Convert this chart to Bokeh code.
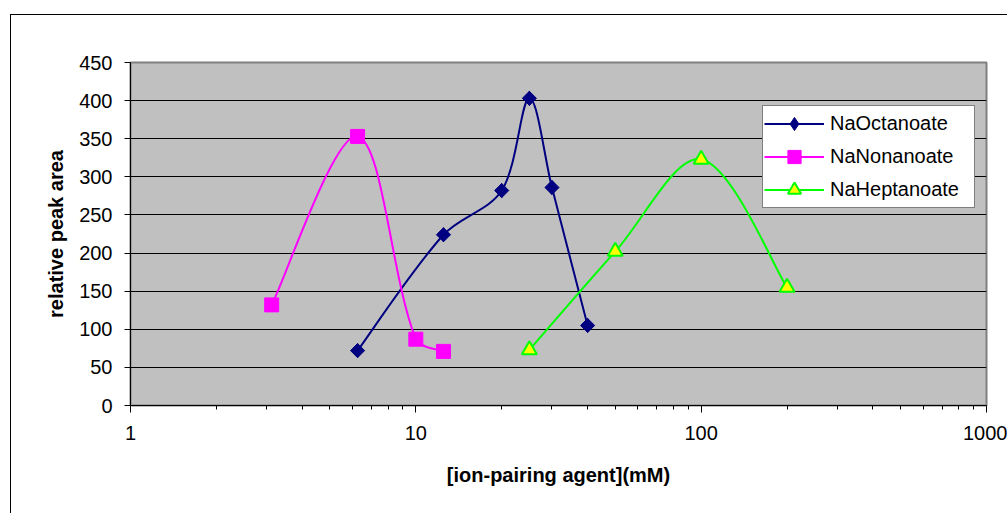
import math

from bokeh.plotting import figure
from bokeh.models import (ColumnDataSource, FixedTicker, PrintfTickFormatter,
                          Legend, LegendItem)
from bokeh.embed import file_html
from bokeh.resources import INLINE

# Relative peak area against ion-pairing agent concentration (mM)
octanoate_conc = [6.25, 12.5, 20, 25, 30, 40]
octanoate_area = [72, 224, 282, 403, 286, 105]

nonanoate_conc = [3.125, 6.25, 10, 12.5]
nonanoate_area = [132, 353, 87, 71]

heptanoate_conc = [25, 50, 100, 200]
heptanoate_area = [73, 202, 323, 155]

series_names = ["NaOctanoate", "NaNonanoate", "NaHeptanoate"]
x_tick_labels = ["1", "10", "100", "1000"]
y_tick_values = [0, 50, 100, 150, 200, 250, 300, 350, 400, 450]

FONT = "Liberation Sans"
X_START, X_END = 1, 1000
Y_START, Y_END = 0, 450

p = figure(width=997, height=499, x_axis_type="log",
           x_range=(X_START, X_END), y_range=(Y_START, Y_END),
           output_backend="svg", toolbar_location=None,
           min_border_left=119, min_border_right=22,
           min_border_top=47, min_border_bottom=109,
           background_fill_color="#C0C0C0", border_fill_color="white")
p.margin = (14, 0, 0, 10)
p.styles = {"border-left": "1px solid black", "border-top": "1px solid black"}

# pixel size of the data frame, used to shape the smoothed curves
FRAME_W = p.width - p.min_border_left - p.min_border_right
FRAME_H = p.height - p.min_border_top - p.min_border_bottom
SX = FRAME_W / (math.log10(X_END) - math.log10(X_START))
SY = FRAME_H / (Y_END - Y_START)


def smooth_segments(xs, ys):
    """Cubic Bezier pieces through every point. Handles follow the
    neighbour chord and are scaled by the adjacent segment lengths
    (in screen proportions), so short segments do not overshoot."""
    px = [math.log10(v) * SX for v in xs]
    py = [v * SY for v in ys]
    n = len(xs)

    def dist(i, j):
        return math.hypot(px[j] - px[i], py[j] - py[i])

    out_h, in_h = [], []
    for i in range(n):
        if i == 0:
            tx, ty = (px[1] - px[0]) / 6.0, (py[1] - py[0]) / 6.0
            out_h.append((tx, ty))
            in_h.append((tx, ty))
        elif i == n - 1:
            tx, ty = (px[i] - px[i - 1]) / 6.0, (py[i] - py[i - 1]) / 6.0
            out_h.append((tx, ty))
            in_h.append((tx, ty))
        else:
            tx, ty = px[i + 1] - px[i - 1], py[i + 1] - py[i - 1]
            dp, dn = dist(i - 1, i), dist(i, i + 1)
            fo = dn / (dp + dn) / 3.0
            fi = dp / (dp + dn) / 3.0
            out_h.append((tx * fo, ty * fo))
            in_h.append((tx * fi, ty * fi))

    seg = {k: [] for k in ("x0", "y0", "x1", "y1", "cx0", "cy0", "cx1", "cy1")}
    for i in range(n - 1):
        seg["x0"].append(xs[i])
        seg["y0"].append(ys[i])
        seg["x1"].append(xs[i + 1])
        seg["y1"].append(ys[i + 1])
        seg["cx0"].append(10 ** ((px[i] + out_h[i][0]) / SX))
        seg["cy0"].append((py[i] + out_h[i][1]) / SY)
        seg["cx1"].append(10 ** ((px[i + 1] - in_h[i + 1][0]) / SX))
        seg["cy1"].append((py[i + 1] - in_h[i + 1][1]) / SY)
    return ColumnDataSource(seg)


p.outline_line_color = "#808080"
p.outline_line_width = 2

p.xgrid.visible = False
p.ygrid.grid_line_color = "black"
p.ygrid.grid_line_width = 1

# x axis: decades with minor ticks at 2..9
x_major = [float(t) for t in x_tick_labels]
x_minor = [m * d for d in x_major[:-1] for m in range(2, 10)]
p.xaxis.ticker = FixedTicker(ticks=x_major, minor_ticks=x_minor)
p.xaxis.formatter = PrintfTickFormatter(format="%d")
p.xaxis.major_tick_out = 7
p.xaxis.major_tick_in = 0
p.xaxis.minor_tick_out = 4
p.xaxis.minor_tick_in = 0
p.xaxis.major_label_standoff = 13
p.xaxis.axis_label = "[ion-pairing agent](mM)"
p.xaxis.axis_label_standoff = 21

p.yaxis.ticker = FixedTicker(ticks=y_tick_values)
p.yaxis.major_tick_out = 6
p.yaxis.major_tick_in = 0
p.yaxis.minor_tick_out = 0
p.yaxis.minor_tick_in = 0
p.yaxis.major_label_standoff = 12
p.yaxis.axis_label = "relative peak area"
p.yaxis.axis_label_standoff = 9

for ax in (p.xaxis, p.yaxis):
    ax.axis_line_color = "black"
    ax.axis_line_width = 1
    ax.major_tick_line_color = "black"
    ax.minor_tick_line_color = "black"
    ax.major_label_text_font = FONT
    ax.major_label_text_font_size = "20px"
    ax.major_label_text_color = "black"
    ax.axis_label_text_font = FONT
    ax.axis_label_text_font_size = "20px"
    ax.axis_label_text_font_style = "bold"
    ax.axis_label_text_color = "black"

curve_keys = dict(x0="x0", y0="y0", x1="x1", y1="y1",
                  cx0="cx0", cy0="cy0", cx1="cx1", cy1="cy1")

# NaOctanoate: navy diamonds (a rhombus underneath serves as legend swatch,
# the rotated square on top gives the even diamond in the plot)
oct_curve = p.bezier(**curve_keys,
                     source=smooth_segments(octanoate_conc, octanoate_area),
                     line_color="#000080", line_width=2)
oct_key = p.scatter(octanoate_conc, octanoate_area, marker="diamond", size=14,
                    fill_color="#000080", line_color="#000080")
p.scatter(octanoate_conc, octanoate_area, marker="square", size=10,
          angle=math.pi / 4, fill_color="#000080", line_color="#000080")

# NaNonanoate: magenta squares
non_curve = p.bezier(**curve_keys,
                     source=smooth_segments(nonanoate_conc, nonanoate_area),
                     line_color="#FF00FF", line_width=2)
non_pts = p.scatter(nonanoate_conc, nonanoate_area, marker="square", size=14,
                    fill_color="#FF00FF", line_color="#FF00FF")

# NaHeptanoate: yellow triangles with green edge
hep_curve = p.bezier(**curve_keys,
                     source=smooth_segments(heptanoate_conc, heptanoate_area),
                     line_color="#00FF00", line_width=2)
hep_pts = p.scatter(heptanoate_conc, heptanoate_area, marker="triangle", size=15,
                    fill_color="#FFFF00", line_color="#00FF00", line_width=2)

legend = Legend(
    items=[
        LegendItem(label=series_names[0], renderers=[oct_curve, oct_key]),
        LegendItem(label=series_names[1], renderers=[non_curve, non_pts]),
        LegendItem(label=series_names[2], renderers=[hep_curve, hep_pts]),
    ],
    location=(632, 197),
    orientation="vertical",
    glyph_width=60, glyph_height=33,
    label_width=143, label_height=33,
    label_standoff=6, spacing=0, padding=1, margin=0,
    label_text_font=FONT, label_text_font_size="20px",
    label_text_color="black",
    border_line_color="black", border_line_width=1,
    background_fill_color="white", background_fill_alpha=1.0,
)
p.add_layout(legend)

open("out.html", "w").write(file_html(p, INLINE))
